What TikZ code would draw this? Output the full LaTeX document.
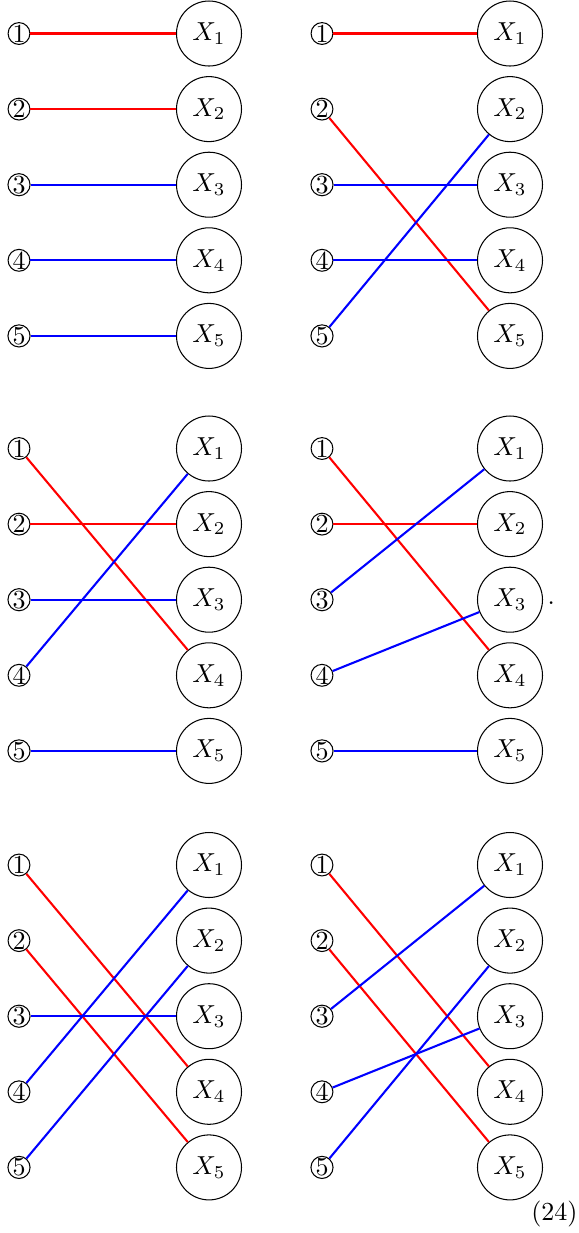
\documentclass[tikz,border=0pt]{standalone}
\begin{document}
\begin{tikzpicture}[x=0.38462pt,y=-0.38462pt,
  num/.style={circle,draw,line width=0.4pt,inner sep=0pt,minimum size=8.4pt},
  var/.style={circle,draw,line width=0.4pt,inner sep=0pt,minimum size=25pt},
  conn/.style={line width=0.8pt}]
\useasboundingbox (0,0) rectangle (578,1233);
\newcommand\mypanel[5]{%
  \foreach \i in {1,...,5} {%
    \node[num] (#1n\i) at (#2,{#4+75.6*(\i-1)}) {\i};
    \node[var] (#1x\i) at (#3,{#4+75.6*(\i-1)}) {$X_{\i}$};
  }
  \foreach \a/\b/\cl in {#5} {\draw[conn,draw=\cl] (#1n\a) -- (#1x\b);}
}
\mypanel{A}{19}{209}{33.5}{1/1/red,2/2/red,3/3/blue,4/4/blue,5/5/blue}
\mypanel{B}{322}{510}{33.5}{1/1/red,2/5/red,3/3/blue,4/4/blue,5/2/blue}
\mypanel{C}{19}{209}{448.5}{1/4/red,2/2/red,3/3/blue,4/1/blue,5/5/blue}
\mypanel{D}{322}{510}{448.5}{1/4/red,2/2/red,3/1/blue,4/3/blue,5/5/blue}
\mypanel{E}{19}{209}{865}{1/4/red,2/5/red,3/3/blue,4/1/blue,5/2/blue}
\mypanel{F}{322}{510}{865}{1/4/red,2/5/red,3/1/blue,4/3/blue,5/2/blue}
\node[anchor=west,inner sep=0pt] (dot) at ([xshift=1.6pt,yshift=-1.2pt]Dx3.east) {.};
\node[anchor=east,inner sep=0pt] (eq) at (578,1214) {(24)};
\end{tikzpicture}
\end{document}
